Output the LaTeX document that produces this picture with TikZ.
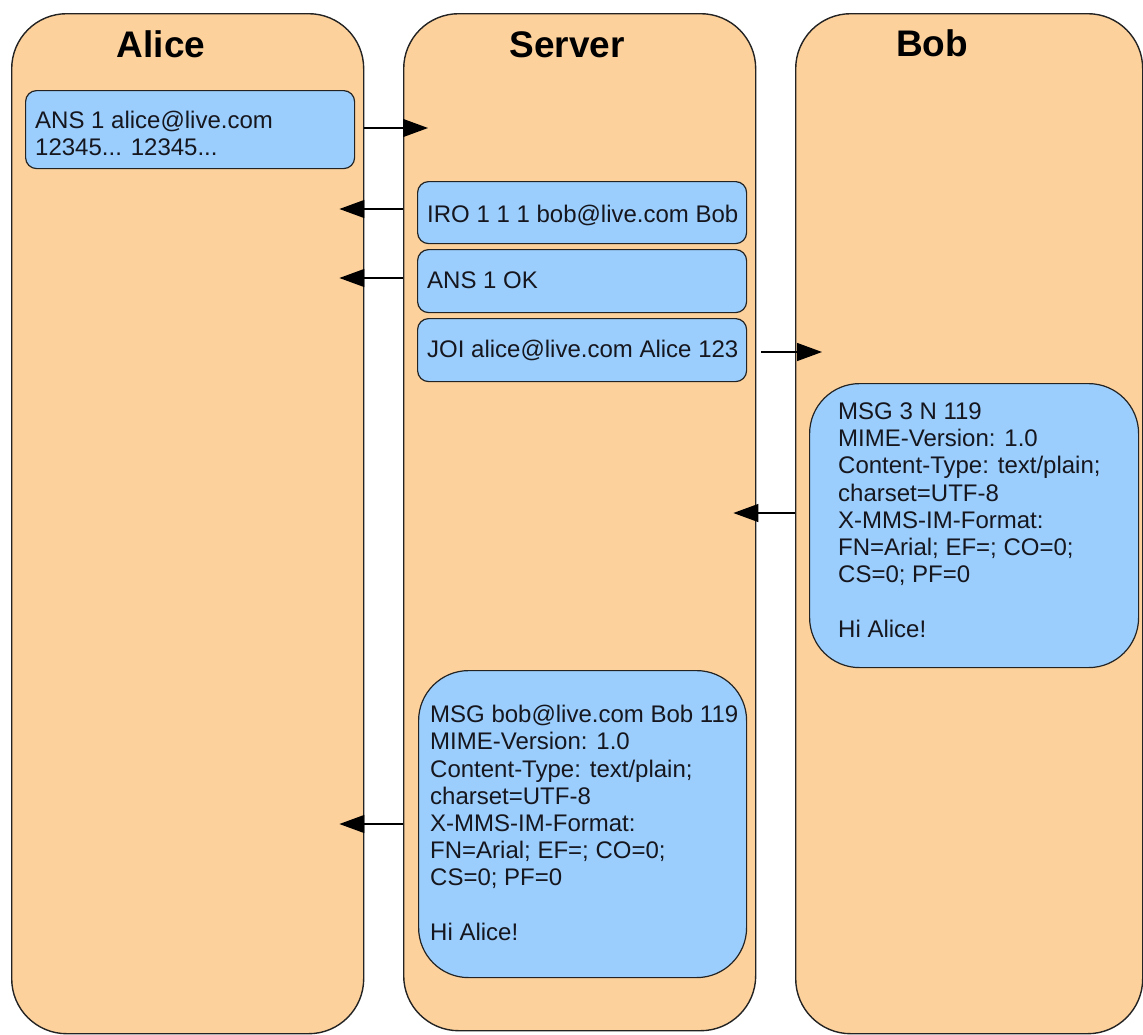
\documentclass[tikz,border=0pt]{standalone}
\usepackage{fontspec}
\setmainfont{Liberation Sans}
\usetikzlibrary{arrows.meta}

\definecolor{lanefill}{RGB}{253,209,156}
\definecolor{msgfill}{RGB}{155,206,252}
\definecolor{edgecol}{RGB}{35,35,35}
\definecolor{txtcol}{RGB}{22,22,30}

\begin{document}
\begin{tikzpicture}[x=1pt,y=-1pt,
  lane/.style={draw=edgecol, line width=1.4pt, fill=lanefill,
    rounded corners=55pt, anchor=north west, inner sep=0pt},
  lanetitle/.style={anchor=base, inner sep=0pt, text=black,
    font=\fontsize{37}{40}\selectfont\bfseries},
  msgbox/.style={draw=edgecol, line width=1.2pt, fill=msgfill,
    rounded corners=11pt, anchor=north west, inner sep=0pt},
  bigbox/.style={msgbox, rounded corners=50pt},
  msgtext/.style={anchor=north west, inner sep=0pt, align=left, text=txtcol,
    font=\fontsize{24}{27.2}\selectfont},
  lineText/.style={msgtext, anchor=base west},
  flow/.style={draw=black, line width=1.3pt,
    -{Triangle[length=25pt,width=18pt]}}
]
\useasboundingbox (0,0) rectangle (1143,1034);
\clip (0,0) rectangle (1143,1034);

% swim lanes
\node[lane, minimum width=352pt, minimum height=1020pt] (alice)  at (11,13)  {};
\node[lane, minimum width=352pt, minimum height=1017pt] (server) at (403,13) {};
\node[lane, minimum width=347pt, minimum height=1020pt] (bob)    at (795,13) {};

\node[lanetitle] (aliceT)  at (161,57) {Alice};
\node[lanetitle] (serverT) at (567,57) {Server};
\node[lanetitle] (bobT)    at (932,56) {Bob};

% message boxes
\node[msgbox, minimum width=329pt, minimum height=78pt] (ansbox) at (25,90) {};
\node[msgtext] (ansT) at (35,111) {ANS 1 alice@live.com\\12345... 12345...};

\node[msgbox, minimum width=329pt, minimum height=62pt] (irobox) at (417,181) {};
\node[lineText] (iroT) at (427,222) {IRO 1 1 1 bob@live.com Bob};

\node[msgbox, minimum width=329pt, minimum height=63pt] (okbox) at (417,249) {};
\node[lineText] (okT) at (427,288) {ANS 1 OK};

\node[msgbox, minimum width=329pt, minimum height=63pt] (joibox) at (417,318) {};
\node[lineText] (joiT) at (427,357) {JOI alice@live.com Alice 123};

\node[bigbox, minimum width=329pt, minimum height=284pt] (bobmsg) at (809,383) {};
\node[msgtext] (bobmsgT) at (838,402.5) {MSG 3 N 119\\MIME-Version: 1.0\\Content-Type: text/plain;\\charset=UTF-8\\X-MMS-IM-Format:\\FN=Arial; EF=; CO=0;\\CS=0; PF=0\\[27.2pt]Hi Alice!};

\node[bigbox, minimum width=328pt, minimum height=307pt] (srvmsg) at (418,670) {};
\node[msgtext] (srvmsgT) at (430,705) {MSG bob@live.com Bob 119\\MIME-Version: 1.0\\Content-Type: text/plain;\\charset=UTF-8\\X-MMS-IM-Format:\\FN=Arial; EF=; CO=0;\\CS=0; PF=0\\[27.2pt]Hi Alice!};

% heights of the message arrows
\coordinate (lvAns) at (0,128);
\coordinate (lvIro) at (0,209);
\coordinate (lvOk)  at (0,278);
\coordinate (lvJoi) at (0,352);
\coordinate (lvBob) at (0,513);
\coordinate (lvSrv) at (0,824);

% arrows between the lanes
\draw[flow] (alice.east |- lvAns) -- ([xshift=25pt]server.west |- lvAns);
\draw[flow] (server.west |- lvIro) -- ([xshift=-25pt]alice.east |- lvIro);
\draw[flow] (server.west |- lvOk) -- ([xshift=-25pt]alice.east |- lvOk);
\draw[flow, shorten <=5pt] (server.east |- lvJoi) -- ([xshift=27pt]bob.west |- lvJoi);
\draw[flow] (bob.west |- lvBob) -- ([xshift=-23pt]server.east |- lvBob);
\draw[flow] (server.west |- lvSrv) -- ([xshift=-25pt]alice.east |- lvSrv);
\end{tikzpicture}
\end{document}
